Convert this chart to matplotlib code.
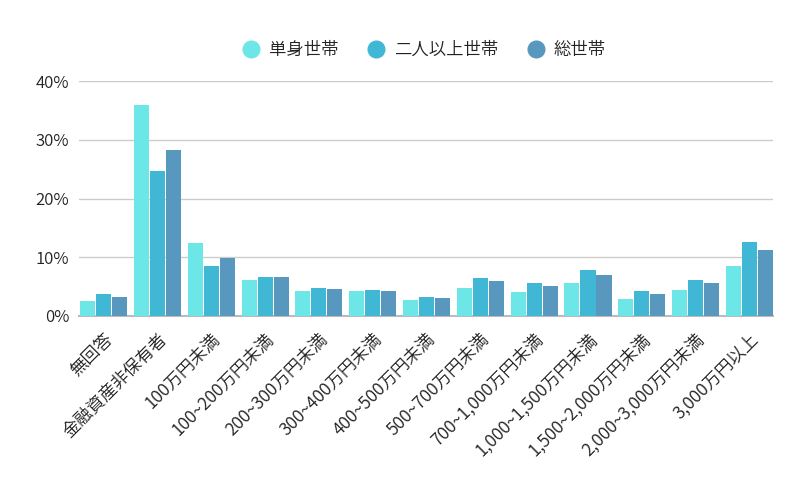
import matplotlib.pyplot as plt
import numpy as np

plt.rcParams['font.family'] = ['Noto Sans CJK JP', 'DejaVu Sans']
plt.rcParams['font.weight'] = 350

categories = ['無回答', '金融資産非保有者', '100万円未満', '100~200万円未満', '200~300万円未満',
              '300~400万円未満', '400~500万円未満', '500~700万円未満', '700~1,000万円未満',
              '1,000~1,500万円未満', '1,500~2,000万円未満', '2,000~3,000万円未満', '3,000万円以上']
single = [2.6, 35.9, 12.5, 6.2, 4.3, 4.2, 2.8, 4.7, 4.1, 5.6, 2.9, 4.5, 8.5]
multi = [3.8, 24.6, 8.5, 6.7, 4.8, 4.4, 3.2, 6.4, 5.6, 7.8, 4.3, 6.1, 12.6]
total = [3.3, 28.3, 9.9, 6.6, 4.6, 4.3, 3.0, 5.9, 5.1, 7.0, 3.8, 5.6, 11.2]
series = ['単身世帯', '二人以上世帯', '総世帯']
colors = ['#6de6e8', '#41b7d6', '#5898be']

fig = plt.figure(figsize=(8.07, 4.88), dpi=100)
ax = fig.add_axes([79 / 807, 1 - 316 / 488, (773 - 79) / 807, (316 - 81) / 488])

x = np.arange(len(categories))
step = 0.298
w = 0.28
for i, (vals, name) in enumerate(zip([single, multi, total], series)):
    ax.bar(x + (i - 1) * step, vals, width=w, color=colors[i], label=name, zorder=3)

ax.set_xlim(-step - w / 2 - 0.02, len(categories) - 1 + step + w / 2)
ax.set_ylim(0, 40)
ax.set_yticks([0, 10, 20, 30, 40])
ax.set_yticklabels(['0%', '10%', '20%', '30%', '40%'])
ax.yaxis.grid(True, color='#cccccc', lw=1, zorder=0)
ax.set_xticks(x)
ax.set_xticklabels(categories, rotation=45, ha='right', va='top', rotation_mode='anchor')
ax.tick_params(axis='both', length=0, colors='#222222')
ax.tick_params(axis='y', labelsize=12, pad=7)
ax.tick_params(axis='x', labelsize=12.5, pad=10)
for s in ['top', 'right', 'left']:
    ax.spines[s].set_visible(False)
ax.spines['bottom'].set_color('#bbbbbb')
ax.spines['bottom'].set_linewidth(1.5)

handles = [plt.Line2D([], [], marker='o', ls='', markersize=12, color=c) for c in colors]
fig.legend(handles, series, loc='center', bbox_to_anchor=(424 / 807, 1 - 50 / 488),
           ncol=3, frameon=False, fontsize=12.5, handlelength=1, handletextpad=0.5,
           columnspacing=1.7, labelcolor='#222222')

fig.savefig('out.png', dpi=100)
